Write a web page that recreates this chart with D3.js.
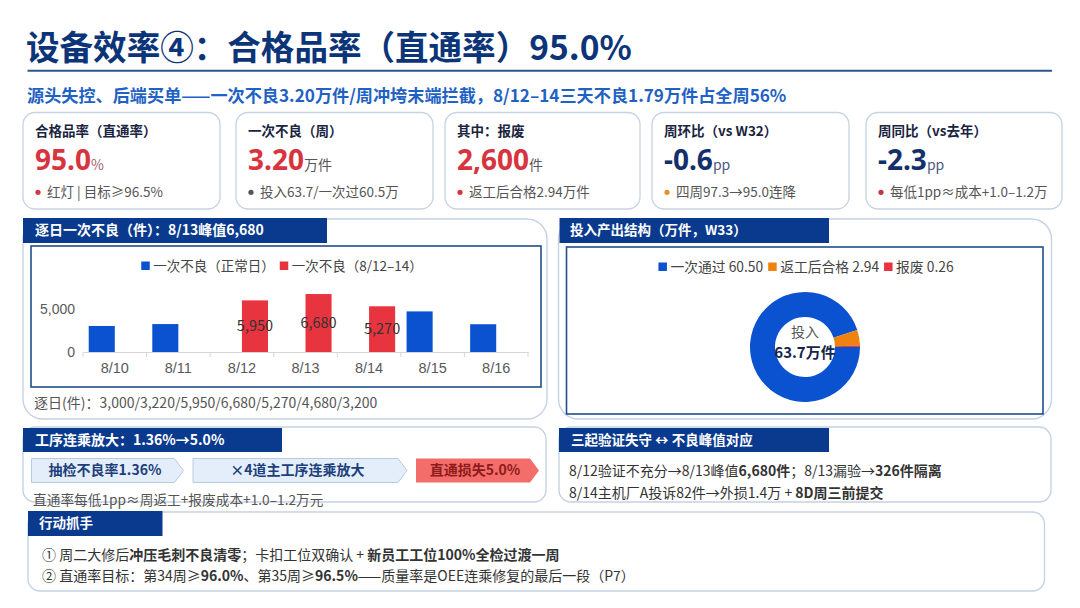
<!DOCTYPE html>
<html>
<head>
<meta charset="utf-8">
<script src="https://cdn.jsdelivr.net/npm/d3@7"></script>
<style>
  body { margin: 0; background: #fff; }
  svg { display: block; font-family: "Noto Sans CJK SC", "Noto Sans", sans-serif; }
</style>
</head>
<body>
<svg id="page" width="1080" height="608"></svg>
<script>
// ---- data ----
const days = ["8/10", "8/11", "8/12", "8/13", "8/14", "8/15", "8/16"];
const normalDefects = [3000, 3220, null, null, null, 4680, 3200];
const peakDefects = [null, null, 5950, 6680, 5270, null, null];
const barSeries = ["一次不良（正常日）", "一次不良（8/12–14）"];
const yTicks = [0, 5000];

const flowLabels = ["一次通过", "返工后合格", "报废"];
const flowValues = [60.50, 2.94, 0.26];

const kpiLabels = ["合格品率（直通率）", "一次不良（周）", "其中：报废", "周环比（vs W32）", "周同比（vs去年）"];
const kpiValues = ["95.0", "3.20", "2,600", "-0.6", "-2.3"];
const kpiUnits = ["%", "万件", "件", "pp", "pp"];
const kpiNotes = ["红灯 | 目标≥96.5%", "投入63.7/一次过60.5万", "返工后合格2.94万件", "四周97.3→95.0连降", "每低1pp≈成本+1.0–1.2万"];

const chainSteps = ["抽检不良率1.36%", "×4道主工序连乘放大", "直通损失5.0%"];

// ---- colours / layout ----
const BLUE = "#0a52d0", RED = "#e8343f", ORANGE = "#f0820f";
const NAVY = "#0a3a8e";
const kpiColor = ["#d8343e", "#d8343e", "#d8343e", "#13306b", "#13306b"];
const unitColor = ["#a8606c", "#555", "#555", "#4a5a80", "#4a5a80"];
const dotColor = ["#d8343e", "#555", "#d8343e", "#e8902a", "#c0393b"];
const cardX = [23, 236, 445, 652, 866];
const cardW = [197, 197, 195, 197, 196];

const svg = d3.select("#page");

function panel(x, y, w, h, r) {
  svg.append("rect").attr("x", x).attr("y", y).attr("width", w).attr("height", h)
    .attr("rx", r).attr("fill", "#fff").attr("stroke", "#c5d2e4").attr("stroke-width", 1.4);
}
function header(x, y, w, h, label, tx, fs) {
  svg.append("rect").attr("x", x).attr("y", y).attr("width", w).attr("height", h).attr("fill", NAVY);
  svg.append("text").attr("x", tx).attr("y", y + h / 2).attr("dy", "0.35em")
    .attr("fill", "#fff").attr("font-size", fs || 13.5).attr("font-weight", 700).text(label);
}
function rich(x, y, segs, size, color) {
  const t = svg.append("text").attr("x", x).attr("y", y).attr("font-size", size).attr("fill", color);
  segs.forEach(s => t.append("tspan").attr("font-weight", s[1] ? 700 : 400).text(s[0]));
  return t;
}
// scale a text's font size so it spans the width it has on the slide
function fit(t, width) {
  const w = t.node().getComputedTextLength();
  t.attr("font-size", +t.attr("font-size") * width / w);
}

// title
fit(svg.append("text").attr("x", 26).attr("y", 60).attr("font-size", 34).attr("font-weight", 700)
  .attr("fill", "#0c3478").text("设备效率④：合格品率（直通率）95.0%"), 606);
svg.append("line").attr("x1", 27.5).attr("x2", 1052).attr("y1", 70.7).attr("y2", 70.7)
  .attr("stroke", "#2b558f").attr("stroke-width", 2);
fit(svg.append("text").attr("x", 27).attr("y", 102).attr("font-size", 17).attr("font-weight", 700)
  .attr("fill", "#1f62c4")
  .text("源头失控、后端买单——一次不良3.20万件/周冲垮末端拦截，8/12–14三天不良1.79万件占全周56%"), 760);

// KPI cards
kpiLabels.forEach((lab, i) => {
  const x = cardX[i];
  svg.append("rect").attr("x", x).attr("y", 112.5).attr("width", cardW[i]).attr("height", 96.5)
    .attr("rx", 12).attr("fill", "#fff").attr("stroke", "#c7d3e3").attr("stroke-width", 1.3);
  svg.append("text").attr("x", x + 12).attr("y", 136).attr("font-size", 13.5).attr("font-weight", 700)
    .attr("fill", "#1a2440").text(lab);
  const v = svg.append("text").attr("x", x + 12).attr("y", 170)
    .attr("font-family", "'Noto Sans', 'Noto Sans CJK SC', sans-serif");
  v.append("tspan").attr("font-size", 28).attr("font-weight", 700).attr("fill", kpiColor[i]).text(kpiValues[i]);
  v.append("tspan").attr("font-size", 14).attr("fill", unitColor[i])
    .attr("font-family", "'Noto Sans CJK SC', sans-serif").text(kpiUnits[i]);
  svg.append("circle").attr("cx", x + 15).attr("cy", 192.3).attr("r", 2.6).attr("fill", dotColor[i]);
  svg.append("text").attr("x", x + 24).attr("y", 197).attr("font-size", 13.5).attr("fill", "#555").text(kpiNotes[i]);
});

// ---- bar panel ----
panel(23, 219, 524, 200, 20);
header(23, 218, 304, 25, "逐日一次不良（件）：8/13峰值6,680", 35, 14);
svg.append("rect").attr("x", 31).attr("y", 246).attr("width", 510).attr("height", 141)
  .attr("fill", "none").attr("stroke", "#1f4f8a").attr("stroke-width", 1.6);

const x0 = d3.scaleBand().domain(days).range([83, 528]).paddingInner(0.18).paddingOuter(0.09);
const x1 = d3.scaleBand().domain([0, 1]).range([0, x0.bandwidth()]);
const y = d3.scaleLinear().domain([0, 8000]).range([352, 282.6]);

const barG = svg.append("g");
[normalDefects, peakDefects].forEach((vals, s) => {
  barG.selectAll(null).data(days.map((d, i) => ({ d, v: vals[i] })).filter(e => e.v != null))
    .enter().append("rect")
    .attr("x", e => x0(e.d) + x1(s)).attr("width", x1.bandwidth())
    .attr("y", e => y(e.v)).attr("height", e => y(0) - y(e.v))
    .attr("fill", s ? RED : BLUE);
});
barG.selectAll(null).data(days.map((d, i) => ({ d, v: peakDefects[i] })).filter(e => e.v != null))
  .enter().append("text")
  .attr("x", e => x0(e.d) + x1(1) + x1.bandwidth() / 2).attr("y", e => y(e.v / 2))
  .attr("dy", "0.35em").attr("text-anchor", "middle").attr("font-size", 14.5).attr("fill", "#333")
  .text(e => d3.format(",")(e.v));

const xAxis = svg.append("g").attr("transform", `translate(0,${y(0)})`)
  .call(d3.axisBottom(x0).tickSize(0).tickPadding(11));
xAxis.select(".domain").attr("stroke", "#d6d6d6");
xAxis.selectAll("text").attr("font-size", 14.5).attr("fill", "#595959").attr("font-family", null);
d3.range(days.length + 1).forEach(i => {
  const bx = x0.range()[0] + i * x0.step();
  svg.append("line").attr("x1", bx).attr("x2", bx).attr("y1", y(0)).attr("y2", y(0) + 5).attr("stroke", "#d6d6d6");
});
const yAxis = svg.append("g").attr("transform", "translate(83,0)")
  .call(d3.axisLeft(y).tickValues(yTicks).tickFormat(d3.format(",")).tickSize(0).tickPadding(8));
yAxis.select(".domain").remove();
yAxis.selectAll("text").attr("font-size", 14).attr("fill", "#595959").attr("font-family", null);

function legend(items, colors, cx, cy, fs) {
  const g = svg.append("g");
  let off = 0;
  items.forEach((t, i) => {
    g.append("rect").attr("x", off).attr("y", cy - 4.5).attr("width", 8.5).attr("height", 8.5).attr("fill", colors[i]);
    const tx = g.append("text").attr("x", off + 12).attr("y", cy).attr("dy", "0.35em")
      .attr("font-size", fs).attr("fill", "#444").text(t);
    off += 12 + tx.node().getComputedTextLength() + 5;
  });
  g.attr("transform", `translate(${cx - (off - 5) / 2},0)`);
}
legend(barSeries, [BLUE, RED], 282, 266, 13.5);

svg.append("text").attr("x", 34).attr("y", 408).attr("font-size", 14).attr("fill", "#555")
  .text("逐日(件)：" + days.map((d, i) => d3.format(",")(normalDefects[i] ?? peakDefects[i])).join("/"));

// ---- donut panel ----
panel(558.5, 219, 493, 200, 20);
header(559.5, 218, 269.5, 25, "投入产出结构（万件，W33）", 570, 13.5);
svg.append("rect").attr("x", 566.5).attr("y", 247).attr("width", 476.5).attr("height", 167)
  .attr("fill", "none").attr("stroke", "#1f4f8a").attr("stroke-width", 1.6);
legend(flowLabels.map((l, i) => `${l} ${d3.format(".2f")(flowValues[i])}`), [BLUE, ORANGE, RED], 806, 267, 13.8);

const pie = d3.pie().sort(null).startAngle(Math.PI / 2).endAngle(Math.PI / 2 + 2 * Math.PI);
const arc = d3.arc().innerRadius(30).outerRadius(55);
const donut = svg.append("g").attr("transform", "translate(805,347)");
donut.selectAll("path").data(pie(flowValues)).enter().append("path")
  .attr("d", arc).attr("fill", (d, i) => [BLUE, ORANGE, RED][i]);
donut.append("text").attr("y", -15).attr("dy", "0.35em").attr("text-anchor", "middle")
  .attr("font-size", 14).attr("fill", "#555").text("投入");
donut.append("text").attr("y", 6).attr("dy", "0.35em").attr("text-anchor", "middle")
  .attr("font-size", 15).attr("font-weight", 700).attr("fill", "#14254a")
  .text(d3.format(".1f")(d3.sum(flowValues)) + "万件");

// ---- chain panel ----
panel(23, 427, 523, 75, 12);
header(23, 428, 259, 24, "工序连乘放大：1.36%→5.0%", 35, 14);
const chainX = [31.5, 193, 416], chainW = [152, 214, 123];
chainSteps.forEach((s, i) => {
  const x = chainX[i], w = chainW[i], top = 458.5, h = 24, tip = 9;
  svg.append("path")
    .attr("d", `M${x},${top}H${x + w - tip}L${x + w},${top + h / 2}L${x + w - tip},${top + h}H${x}Z`)
    .attr("fill", i === 2 ? "#f36d6a" : "#e4eefa").attr("stroke", i === 2 ? "none" : "#b9cbe3");
  svg.append("text").attr("x", x + (w - tip) / 2 + 2).attr("y", top + h / 2).attr("dy", "0.35em")
    .attr("text-anchor", "middle").attr("font-size", 14).attr("font-weight", 700)
    .attr("fill", i === 2 ? "#8e1b1b" : "#1d3f7a").text(s);
});
svg.append("text").attr("x", 33).attr("y", 505).attr("font-size", 13.7).attr("fill", "#555")
  .text("直通率每低1pp≈周返工+报废成本+1.0–1.2万元");

// ---- validation panel ----
panel(559, 427, 492, 75, 12);
header(559, 428, 270, 24, "三起验证失守 ↔ 不良峰值对应", 571, 13.5);
rich(569, 476, [["8/12验证不充分→8/13峰值"], ["6,680件", 1], ["；8/13漏验→"], ["326件隔离", 1]], 14, "#333");
rich(569, 498, [["8/14主机厂A投诉82件→外损1.4万 + "], ["8D周三前提交", 1]], 14, "#333");

// ---- action panel ----
panel(28, 512, 1016.5, 79, 12);
header(28, 511, 134.5, 25, "行动抓手", 39, 13.5);
rich(42, 560, [["① 周二大修后"], ["冲压毛刺不良清零", 1], ["；卡扣工位双确认 + "], ["新员工工位100%全检过渡一周", 1]], 14, "#333");
rich(42, 581, [["② 直通率目标：第34周≥"], ["96.0%", 1], ["、第35周≥"], ["96.5%", 1], ["——质量率是OEE连乘修复的最后一段（P7）"]], 14, "#333");
</script>
</body>
</html>
